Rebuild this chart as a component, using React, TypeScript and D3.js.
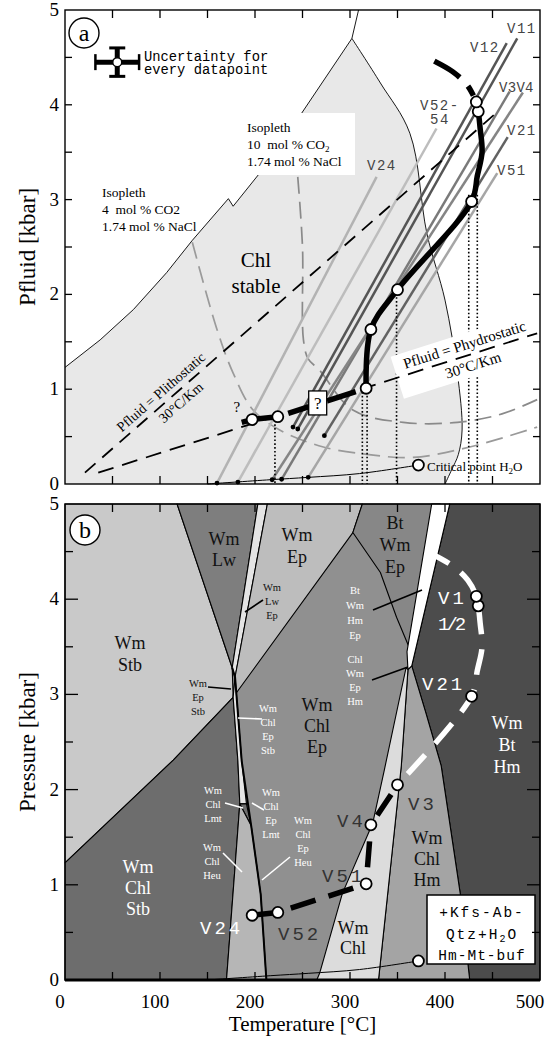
import React from "react";
import * as d3 from "d3";

type Pt = [number, number];

// ---------- axes ----------
const tempLabels = [0, 100, 200, 300, 400, 500];
const pressLabels = [0, 1, 2, 3, 4, 5];

// ---------- fluid inclusion P-T estimates (°C, kbar) ----------
const sampleNames = ["V24", "V52", "V51", "V4", "V3", "V21", "V12", "V11"];
const sampleT = [197, 224, 317, 322, 350, 428, 435, 433];
const sampleP = [0.68, 0.71, 1.01, 1.63, 2.05, 2.98, 3.93, 4.03];
const trendLeadIn: Pt = [186, 0.65];
const trendBend: Pt[] = [[434, 3.25], [439, 3.5], [437, 3.75]];
const trendTail: Pt[] = [[424, 4.2], [408, 4.35], [385, 4.48]];
const uncertaintyT = 23;
const uncertaintyP = 0.15;

// ---------- isochores ----------
const isoNames = ["V24", "V52-54", "V51", "V21", "V3", "V4", "V12", "V11"];
const isoT0 = [160, 182, 256, 273, 228, 218, 240, 245];
const isoP0 = [0.01, 0.02, 0.07, 0.51, 0.05, 0.045, 0.6, 0.58];
const isoT1 = [328, 391, 455, 466, 468, 482, 465, 476];
const isoP1 = [3.24, 3.75, 3.28, 3.66, 4.14, 4.13, 4.65, 4.7];
const isoShade = ["#b3b3b3", "#bdbdbd", "#a6a6a6", "#626262", "#7a7a7a", "#858585", "#555555", "#555555"];

// temperatures from geothermometry (dotted)
const geothermT = [221, 313, 318, 349, 425, 434];
const geothermP = [0.71, 1.01, 1.01, 2.05, 3.05, 3.05];

// ---------- Chl stability field ----------
const chlLeftT = [0, 37, 72, 107, 134, 172, 177, 205, 249, 302];
const chlLeftP = [1.23, 1.52, 1.84, 2.23, 2.57, 3.01, 2.93, 3.28, 3.91, 4.7];
const chlRightT = [302, 332, 363, 381, 400, 413, 418, 414, 407, 400];
const chlRightP = [4.7, 4.23, 3.7, 2.64, 1.94, 1.17, 0.57, 0.31, 0.15, 0.0];
const chlTopT = [302, 309];
const chlTopP = [4.7, 5.0];

// ---------- isopleths ----------
const iso4T = [134, 160, 177, 198, 226, 272, 320, 366, 426, 497];
const iso4P = [2.55, 1.63, 1.17, 0.78, 0.57, 0.39, 0.31, 0.28, 0.39, 0.6];
const iso10T = [245, 250, 251, 256, 268, 303, 356, 413, 460, 497];
const iso10P = [3.24, 2.5, 1.52, 1.32, 1.2, 0.78, 0.65, 0.65, 0.74, 0.89];

// ---------- geotherms ----------
const lithoT = [21, 458];
const lithoP = [0.12, 3.95];
const hydroT = [35, 497];
const hydroP = [0.12, 1.59];

// ---------- liquid-vapour curve of H2O ----------
const boilT = [150, 216, 256, 310, 372];
const boilP = [0.0, 0.045, 0.07, 0.11, 0.2];
const criticalPoint: Pt = [372, 0.2];

// ---------- phase fields (panel b) ----------
const fieldWmChlEp: Pt[] = [[0, 0], [500, 0], [500, 5], [0, 5]];
const fieldWmStb: Pt[] = [[0, 5], [118, 5], [176, 3.28], [177, 2.97], [114, 2.31], [0, 1.23]];
const fieldWmChlStb: Pt[] = [[0, 1.23], [114, 2.31], [177, 2.97], [182, 2.3], [184, 1.85], [170, 0], [0, 0]];
const fieldWmLw: Pt[] = [[118, 5], [203, 5], [176, 3.28]];
const fieldWmLwEp: Pt[] = [[203, 5], [213, 5], [179, 3.18], [176, 3.28]];
const fieldWmEp: Pt[] = [[213, 5], [313, 5], [303, 4.7], [177, 2.97], [179, 3.18]];
const fieldWmChlEpStb: Pt[] = [[177, 2.97], [179, 3.18], [186, 2.3], [191, 1.85], [184, 1.85], [182, 2.3]];
const fieldWmChlLmt: Pt[] = [[184, 1.85], [191, 1.85], [196, 1.62]];
const fieldWmChlHeu: Pt[] = [[184, 1.85], [196, 1.62], [206, 0.9], [212, 0], [170, 0]];
const fieldBtWmEp: Pt[] = [[313, 5], [395, 5], [362, 3.5], [349, 3.81], [332, 4.28], [303, 4.7]];
const fieldBtWmHmEp: Pt[] = [[386, 5], [405, 5], [365, 3.3], [361, 3.26], [360, 3.45]];
const fieldWmBtHm: Pt[] = [[405, 5], [500, 5], [500, 0], [426, 0], [416, 0.91], [396, 2.25], [380, 2.8], [365, 3.3]];
const fieldWmChlHm: Pt[] = [[361, 3.26], [365, 3.3], [380, 2.8], [396, 2.25], [416, 0.91], [426, 0], [330, 0], [354, 2.25]];
const fieldWmChl: Pt[] = [[359, 3.28], [361, 3.26], [354, 2.25], [330, 0], [265, 0], [268, 0.07], [292, 0.91], [324, 1.65], [336, 2.2]];
const epBoundary: Pt[] = [[176, 3.28], [179, 3.18], [186, 2.3], [196, 1.62], [206, 0.9], [212, 0]];

const fields: { pts: Pt[]; fill: string }[] = [
  { pts: fieldWmStb, fill: "#c9c9c9" },
  { pts: fieldWmChlStb, fill: "#6d6d6d" },
  { pts: fieldWmLw, fill: "#7e7e7e" },
  { pts: fieldWmLwEp, fill: "#e4e4e4" },
  { pts: fieldWmEp, fill: "#bdbdbd" },
  { pts: fieldWmChlEpStb, fill: "#e6e6e6" },
  { pts: fieldWmChlLmt, fill: "#6d6d6d" },
  { pts: fieldWmChlHeu, fill: "#b6b6b6" },
  { pts: fieldBtWmEp, fill: "#878787" },
  { pts: fieldWmBtHm, fill: "#4c4c4c" },
  { pts: fieldWmChlHm, fill: "#a4a4a4" },
  { pts: fieldWmChl, fill: "#dcdcdc" },
  { pts: fieldBtWmHmEp, fill: "#ffffff" },
];

// ---------- scales ----------
const xs = d3.scaleLinear().domain([0, 500]).range([65, 540]);
const yA = d3.scaleLinear().domain([0, 5]).range([484, 10]);
const yB = d3.scaleLinear().domain([0, 5]).range([980, 504]);

const zip = (t: number[], p: number[]): Pt[] => t.map((v, i) => [v, p[i]]);
const gen = (y: d3.ScaleLinear<number, number>, curve: d3.CurveFactory = d3.curveLinear) =>
  d3.line<Pt>().x((d) => xs(d[0])).y((d) => y(d[1])).curve(curve);

const samples: Pt[] = zip(sampleT, sampleP);
const [V24, V52, V51, V4, V3, V21, V12, V11] = samples;

const serif = "'Liberation Serif', 'Times New Roman', serif";
const mono = "'Liberation Mono', 'Courier New', monospace";

function segLen(y: d3.ScaleLinear<number, number>, a: Pt, b: Pt) {
  return Math.hypot(xs(b[0]) - xs(a[0]), y(b[1]) - y(a[1]));
}
function evenDashes(len: number, n: number, d: number) {
  const g = (len - n * d) / (n + 1);
  const arr: number[] = [0, g];
  for (let i = 0; i < n; i++) arr.push(d, i === n - 1 ? g + 50 : g);
  return arr.join(" ");
}

const Stack = (props: { x: number; y: number; lines: string[]; size: number; gap: number; fill: string; family?: string }) => (
  <text x={props.x} y={props.y} fontSize={props.size} fill={props.fill} textAnchor="middle" fontFamily={props.family || serif}>
    {props.lines.map((l, i) => (
      <tspan key={i} x={props.x} y={props.y + i * props.gap}>
        {l}
      </tspan>
    ))}
  </text>
);

function Ticks(props: { y: d3.ScaleLinear<number, number>; major: number; minor: number; hor: number }) {
  const { y, major, minor, hor } = props;
  const [y0, y1] = y.range();
  const tT = d3.range(50, 500, 50);
  const tP = d3.range(0.5, 5, 0.5);
  return (
    <g stroke="#000" strokeWidth={1.3}>
      {tT.map((t) => (
        <g key={"t" + t}>
          <line x1={xs(t)} x2={xs(t)} y1={y1} y2={y1 + hor} />
          <line x1={xs(t)} x2={xs(t)} y1={y0} y2={y0 - hor} />
        </g>
      ))}
      {tP.map((p) => {
        const len = Number.isInteger(p) ? major : minor;
        return (
          <g key={"p" + p}>
            <line x1={xs(0)} x2={xs(0) + len} y1={y(p)} y2={y(p)} />
            <line x1={xs(500)} x2={xs(500) - len} y1={y(p)} y2={y(p)} />
          </g>
        );
      })}
    </g>
  );
}

export default function App() {
  const lA = gen(yA);
  const lB = gen(yB);
  const smoothA = gen(yA, d3.curveCatmullRom);

  // Chl stable field outline
  const leftPts = zip(chlLeftT, chlLeftP);
  const rightPts = zip(chlRightT, chlRightP);
  const leftPath = lA(leftPts)!;
  const rightPath = smoothA(rightPts)!;
  const chlFill = leftPath + rightPath.replace(/^M/, "L") + `L${xs(0)},${yA(0)}Z`;

  // geotherm geometry
  const litho = zip(lithoT, lithoP);
  const hydro = zip(hydroT, hydroP);
  const lithoAng = (Math.atan2(yA(litho[1][1]) - yA(litho[0][1]), xs(litho[1][0]) - xs(litho[0][0])) * 180) / Math.PI;
  const hydroAng = (Math.atan2(yA(hydro[1][1]) - yA(hydro[0][1]), xs(hydro[1][0]) - xs(hydro[0][0])) * 180) / Math.PI;
  const onLine = (l: Pt[], t: number): Pt => [t, l[0][1] + ((t - l[0][0]) * (l[1][1] - l[0][1])) / (l[1][0] - l[0][0])];
  const lithoLbl = onLine(litho, 110);
  const hydroLbl = onLine(hydro, 424);
  const qBox = onLine(hydro, 266);

  // trend segments
  const upperTrend: Pt[] = [V51, V4, V3, V21, ...trendBend, V12, V11];
  const tailA: Pt[] = [V11, ...trendTail];
  const whiteB: Pt[] = [V3, V21, ...trendBend, V12, V11, ...trendTail];

  const circle = (y: d3.ScaleLinear<number, number>, d: Pt, k: string) => (
    <circle key={k} cx={xs(d[0])} cy={y(d[1])} r={5.5} fill="#fff" stroke="#000" strokeWidth={1.8} />
  );

  const uc: Pt = [55, 4.45];

  return (
    <svg width={551} height={1038} style={{ position: "absolute", left: 0, top: 0, background: "#fff" }}>
      {/* ================= panel a ================= */}
      <g>
        <path d={chlFill} fill="#e8e8e8" />
        <path d={leftPath} fill="none" stroke="#000" strokeWidth={0.9} />
        <path d={rightPath} fill="none" stroke="#000" strokeWidth={0.9} />
        <path d={lA(zip(chlTopT, chlTopP))!} fill="none" stroke="#000" strokeWidth={0.9} />

        {/* isopleth label knock-out */}
        <rect x={240} y={113} width={115} height={62} fill="#fff" />

        {/* isopleths */}
        <path d={gen(yA, d3.curveCatmullRom)(zip(iso4T, iso4P))!} fill="none" stroke="#9a9a9a" strokeWidth={1.7} strokeDasharray="17 8" />
        <path d={gen(yA, d3.curveCatmullRom)(zip(iso10T, iso10P))!} fill="none" stroke="#8a8a8a" strokeWidth={1.7} strokeDasharray="17 8" />

        {/* isochores */}
        {isoNames.map((n, i) => (
          <g key={n}>
            <line x1={xs(isoT0[i])} y1={yA(isoP0[i])} x2={xs(isoT1[i])} y2={yA(isoP1[i])} stroke={isoShade[i]} strokeWidth={2.5} />
            <circle cx={xs(isoT0[i])} cy={yA(isoP0[i])} r={2.4} fill="#000" />
          </g>
        ))}

        {/* liquid-vapour curve */}
        <path d={smoothA(zip(boilT, boilP))!} fill="none" stroke="#000" strokeWidth={1} />

        {/* geotherms */}
        <path d={lA(litho)!} fill="none" stroke="#000" strokeWidth={1.8} strokeDasharray="14 9" />

        {/* dotted temperatures */}
        {geothermT.map((t, i) => (
          <line key={i} x1={xs(t)} x2={xs(t)} y1={yA(geothermP[i])} y2={yA(0)} stroke="#000" strokeWidth={1.6} strokeDasharray="1.6 2.2" />
        ))}

        {/* hydrostatic label background + line */}
        <g transform={`translate(${xs(hydroLbl[0])},${yA(hydroLbl[1])}) rotate(${hydroAng})`}>
          <rect x={-74} y={-22} width={150} height={44} fill="#fff" />
        </g>
        <path d={lA(hydro)!} fill="none" stroke="#000" strokeWidth={1.8} strokeDasharray="16 9" />
        <g transform={`translate(${xs(hydroLbl[0])},${yA(hydroLbl[1])}) rotate(${hydroAng})`} fontFamily={serif} fontSize={15} textAnchor="middle">
          <text x={0} y={-6}>Pfluid = Phydrostatic</text>
          <text x={2} y={16}>30°C/Km</text>
        </g>
        <g transform={`translate(${xs(lithoLbl[0])},${yA(lithoLbl[1])}) rotate(${lithoAng})`} fontFamily={serif} fontSize={14} textAnchor="middle">
          <text x={-2} y={-6}>Pfluid = Plithostatic</text>
          <text x={6} y={15}>30°C/Km</text>
        </g>

        {/* P-T trend */}
        <path d={lA([trendLeadIn, V24, V52])!} fill="none" stroke="#000" strokeWidth={5.5} />
        <path d={lA([V52, V51])!} fill="none" stroke="#000" strokeWidth={5.5} strokeDasharray={evenDashes(segLen(yA, V52, V51), 2, 30)} />
        <path d={smoothA(upperTrend)!} fill="none" stroke="#000" strokeWidth={5.5} strokeLinejoin="round" />
        <path d={smoothA(tailA)!} fill="none" stroke="#000" strokeWidth={5.5} strokeDasharray="0 7 11 12 30 200" />
        <g transform={`translate(${xs(qBox[0])},${yA(qBox[1])})`}>
          <rect x={-9} y={-12} width={18} height={24} fill="#fff" stroke="#000" strokeWidth={1.3} />
          <text x={0} y={6} textAnchor="middle" fontFamily={serif} fontSize={17}>?</text>
        </g>
        {samples.map((d, i) => circle(yA, d, "a" + i))}
        <circle cx={xs(criticalPoint[0])} cy={yA(criticalPoint[1])} r={5.5} fill="#fff" stroke="#000" strokeWidth={1.8} />
        <text x={xs(181)} y={yA(0.76)} fontFamily={serif} fontSize={15} textAnchor="middle">?</text>

        {/* texts */}
        <text fontFamily={serif} fontSize={13} x={427} y={471}>
          Critical point H<tspan fontSize={9} dy={3}>2</tspan><tspan dy={-3}>O</tspan>
        </text>
        <text fontFamily={serif} fontSize={13.5} style={{ whiteSpace: "pre" }}>
          <tspan x={102} y={197}>Isopleth</tspan>
          <tspan x={102} y={214}>4  mol % CO2</tspan>
          <tspan x={102} y={231}>1.74 mol % NaCl</tspan>
        </text>
        <text fontFamily={serif} fontSize={13.5} style={{ whiteSpace: "pre" }}>
          <tspan x={247} y={132}>Isopleth</tspan>
          <tspan x={247} y={149}>10  mol % CO</tspan>
          <tspan fontSize={9} dy={3}>2</tspan>
          <tspan x={247} y={166}>1.74 mol % NaCl</tspan>
        </text>
        <Stack x={256} y={267} lines={["Chl", "stable"]} size={21} gap={26} fill="#000" />

        <g fontFamily={mono} fontSize={14} fill="#444" letterSpacing={1.5}>
          <text x={507} y={33}>V11</text>
          <text x={470} y={52}>V12</text>
          <text x={499} y={92} letterSpacing={0.3}>V3V4</text>
          <text x={420} y={110}>V52-</text>
          <text x={430} y={124}>54</text>
          <text x={507} y={135}>V21</text>
          <text x={367} y={170}>V24</text>
          <text x={497} y={175}>V51</text>
        </g>

        {/* uncertainty legend */}
        <g stroke="#000">
          <line x1={xs(uc[0] - uncertaintyT)} x2={xs(uc[0] + uncertaintyT)} y1={yA(uc[1])} y2={yA(uc[1])} strokeWidth={5} />
          <line x1={xs(uc[0])} x2={xs(uc[0])} y1={yA(uc[1] - uncertaintyP)} y2={yA(uc[1] + uncertaintyP)} strokeWidth={5} />
          <line x1={xs(uc[0] - uncertaintyT)} x2={xs(uc[0] - uncertaintyT)} y1={yA(uc[1]) - 8} y2={yA(uc[1]) + 8} strokeWidth={2.5} />
          <line x1={xs(uc[0] + uncertaintyT)} x2={xs(uc[0] + uncertaintyT)} y1={yA(uc[1]) - 8} y2={yA(uc[1]) + 8} strokeWidth={2.5} />
          <line x1={xs(uc[0]) - 8} x2={xs(uc[0]) + 8} y1={yA(uc[1] + uncertaintyP)} y2={yA(uc[1] + uncertaintyP)} strokeWidth={3} />
          <line x1={xs(uc[0]) - 8} x2={xs(uc[0]) + 8} y1={yA(uc[1] - uncertaintyP)} y2={yA(uc[1] - uncertaintyP)} strokeWidth={3} />
          <circle cx={xs(uc[0])} cy={yA(uc[1])} r={4.5} fill="#fff" strokeWidth={1.5} />
        </g>
        <text fontFamily={mono} fontSize={13.8}>
          <tspan x={144} y={61}>Uncertainty for</tspan>
          <tspan x={144} y={74}>every datapoint</tspan>
        </text>

        <circle cx={84} cy={33} r={15} fill="#fff" stroke="#000" strokeWidth={1.4} />
        <text x={84} y={41} fontFamily={serif} fontSize={24} textAnchor="middle">a</text>

        <rect x={xs(0)} y={yA(5)} width={xs(500) - xs(0)} height={yA(0) - yA(5)} fill="none" stroke="#000" strokeWidth={1.4} />
        <Ticks y={yA} major={7} minor={7} hor={8} />
      </g>

      {/* ================= panel b ================= */}
      <g>
        <path d={lB(fieldWmChlEp)! + "Z"} fill="#909090" />
        {fields.map((f, i) => (
          <path key={i} d={lB(f.pts)! + "Z"} fill={f.fill} stroke="#000" strokeWidth={1.1} strokeLinejoin="round" />
        ))}
        <path d={lB(epBoundary)!} fill="none" stroke="#000" strokeWidth={2} />
        <line x1={xs(0)} x2={xs(500)} y1={yB(0)} y2={yB(0)} stroke="#000" strokeWidth={3} />
        <path d={gen(yB, d3.curveCatmullRom)(zip(boilT, boilP))!} fill="none" stroke="#000" strokeWidth={1} />

        {/* P-T trend */}
        <path d={lB([V24, V52])!} fill="none" stroke="#000" strokeWidth={5.5} />
        <path d={lB([V52, V51])!} fill="none" stroke="#000" strokeWidth={5.5} strokeDasharray={evenDashes(segLen(yB, V52, V51), 2, 26)} />
        <path d={lB([V51, V4])!} fill="none" stroke="#000" strokeWidth={5.5} strokeDasharray={evenDashes(segLen(yB, V51, V4), 1, 26)} />
        <path d={lB([V4, V3])!} fill="none" stroke="#000" strokeWidth={5.5} strokeDasharray={evenDashes(segLen(yB, V4, V3), 1, 25)} />
        <path d={gen(yB, d3.curveCatmullRom)(whiteB)!} fill="none" stroke="#fff" strokeWidth={5.5} strokeDasharray="26 15" strokeDashoffset={26} />
        {samples.map((d, i) => circle(yB, d, "b" + i))}
        <circle cx={xs(criticalPoint[0])} cy={yB(criticalPoint[1])} r={5.5} fill="#fff" stroke="#000" strokeWidth={1.8} />

        {/* field labels */}
        <Stack x={130} y={649} lines={["Wm", "Stb"]} size={18} gap={22} fill="#111" />
        <Stack x={224} y={545} lines={["Wm", "Lw"]} size={18} gap={21} fill="#111" />
        <Stack x={297} y={541} lines={["Wm", "Ep"]} size={18} gap={22} fill="#111" />
        <Stack x={395} y={529} lines={["Bt", "Wm", "Ep"]} size={18} gap={22} fill="#111" />
        <Stack x={317} y={711} lines={["Wm", "Chl", "Ep"]} size={18} gap={21} fill="#111" />
        <Stack x={507} y={729} lines={["Wm", "Bt", "Hm"]} size={18} gap={22} fill="#fff" />
        <Stack x={427} y={844} lines={["Wm", "Chl", "Hm"]} size={18} gap={21} fill="#111" />
        <Stack x={353} y={934} lines={["Wm", "Chl"]} size={18} gap={20} fill="#111" />
        <Stack x={138} y={873} lines={["Wm", "Chl", "Stb"]} size={18} gap={21} fill="#fff" />

        <Stack x={272} y={591} lines={["Wm", "Lw", "Ep"]} size={10.5} gap={14} fill="#111" />
        <Stack x={198} y={687} lines={["Wm", "Ep", "Stb"]} size={10.5} gap={14} fill="#111" />
        <Stack x={268} y={712} lines={["Wm", "Chl", "Ep", "Stb"]} size={10.5} gap={14} fill="#fff" />
        <Stack x={355} y={594} lines={["Bt", "Wm", "Hm", "Ep"]} size={10.5} gap={15} fill="#fff" />
        <Stack x={355} y={663} lines={["Chl", "Wm", "Ep", "Hm"]} size={10.5} gap={14} fill="#fff" />
        <Stack x={213} y={794} lines={["Wm", "Chl", "Lmt"]} size={10.5} gap={14} fill="#fff" />
        <Stack x={212} y={851} lines={["Wm", "Chl", "Heu"]} size={10.5} gap={14} fill="#fff" />
        <Stack x={271} y={796} lines={["Wm", "Chl", "Ep", "Lmt"]} size={10.5} gap={14} fill="#fff" />
        <Stack x={303} y={824} lines={["Wm", "Chl", "Ep", "Heu"]} size={10.5} gap={14} fill="#fff" />

        {/* leaders */}
        <g strokeWidth={1.6}>
          <line x1={263} y1={600} x2={245} y2={612} stroke="#000" />
          <line x1={208} y1={687} x2={231} y2={689} stroke="#000" />
          <line x1={262} y1={719} x2={238} y2={718} stroke="#fff" />
          <line x1={373} y1={610} x2={422} y2={590} stroke="#000" />
          <line x1={372} y1={680} x2={408} y2={667} stroke="#000" />
          <line x1={225} y1={803} x2={243} y2={808} stroke="#fff" />
          <line x1={223} y1={853} x2={242} y2={872} stroke="#fff" />
          <line x1={264} y1={810} x2={252} y2={803} stroke="#fff" />
          <line x1={290} y1={857} x2={262} y2={880} stroke="#fff" />
        </g>

        {/* sample labels */}
        <g fontFamily={mono} fontSize={19} letterSpacing={3}>
          <text x={438} y={604} fill="#fff">V1</text>
          <text x={438} y={630} fill="#fff" letterSpacing={-3}>1/2</text>
          <text x={422} y={690} fill="#fff">V21</text>
          <text x={408} y={810} fill="#333">V3</text>
          <text x={337} y={827} fill="#333">V4</text>
          <text x={322} y={882} fill="#333">V51</text>
          <text x={278} y={940} fill="#333">V52</text>
          <text x={200} y={934} fill="#fff">V24</text>
        </g>

        {/* buffer assemblage box */}
        <rect x={427} y={895} width={108} height={69} fill="#fff" stroke="#000" strokeWidth={1.5} />
        <g fontFamily={mono} fontSize={14.5} textAnchor="middle" letterSpacing={2}>
          <text x={482} y={917}>+Kfs-Ab-</text>
          <text x={482} y={939}>
            Qtz+H<tspan fontSize={10} dy={3}>2</tspan><tspan dy={-3}>O</tspan>
          </text>
          <text x={482} y={960} letterSpacing={1}>Hm-Mt-buf</text>
        </g>

        <circle cx={85} cy={530} r={15} fill="#fff" stroke="#000" strokeWidth={1.4} />
        <text x={85} y={538} fontFamily={serif} fontSize={24} textAnchor="middle">b</text>

        <rect x={xs(0)} y={yB(5)} width={xs(500) - xs(0)} height={yB(0) - yB(5)} fill="none" stroke="#000" strokeWidth={1.4} />
        <Ticks y={yB} major={13} minor={8} hor={8} />
      </g>

      {/* ================= axis labels ================= */}
      <g fontFamily={serif} fontSize={19}>
        {pressLabels.map((p) => (
          <text key={"pa" + p} x={59} y={yA(p) + 6} textAnchor="end">{p}</text>
        ))}
        {pressLabels.map((p) => (
          <text key={"pb" + p} x={59} y={yB(p) + 6} textAnchor="end">{p}</text>
        ))}
        {tempLabels.map((t, i) => (
          <text key={"t" + t} x={xs(t) - (i === tempLabels.length - 1 ? 10 : 5)} y={1008} textAnchor="middle">{t}</text>
        ))}
      </g>
      <text transform={`translate(35,${(yA(0) + yA(5)) / 2}) rotate(-90)`} textAnchor="middle" fontFamily={serif} fontSize={23}>
        Pfluid [kbar]
      </text>
      <text transform={`translate(35,${(yB(0) + yB(5)) / 2}) rotate(-90)`} textAnchor="middle" fontFamily={serif} fontSize={23}>
        Pressure [kbar]
      </text>
      <text x={(xs(0) + xs(500)) / 2} y={1031} textAnchor="middle" fontFamily={serif} fontSize={21}>
        Temperature [°C]
      </text>
    </svg>
  );
}
